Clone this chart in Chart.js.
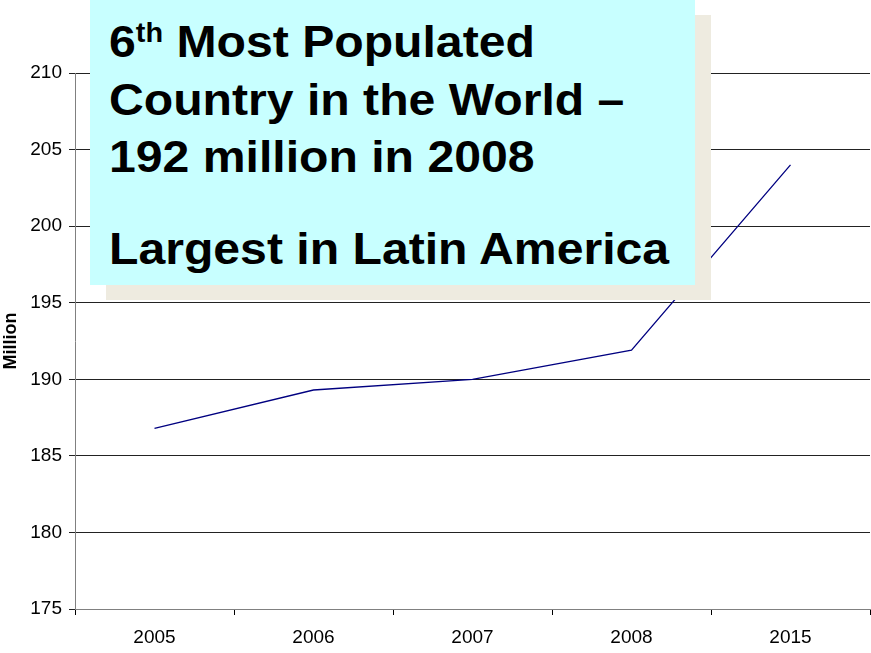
<!DOCTYPE html>
<html>
<head>
<meta charset="utf-8">
<script src="https://cdn.jsdelivr.net/npm/chart.js@4"></script>
<style>
  html, body { margin: 0; padding: 0; background: #fff; }
  #wrap { position: relative; width: 871px; height: 653px; }
  #shadow { position: absolute; left: 106px; top: 15px; width: 605px; height: 285px; background: #EEEBE0; }
  #box { position: absolute; left: 90px; top: 0px; width: 605px; height: 285px; background: #C8FFFF; }
  #box p { margin: 0; position: absolute; left: 19px; font: bold 45px "Liberation Sans", Arial, sans-serif; color: #000; white-space: nowrap; line-height: 57.5px; transform: scaleX(1.07); transform-origin: 0 0; }
  #box sup { font-size: 27px; vertical-align: 15px; line-height: 0; }
</style>
</head>
<body>
<div id="wrap">
  <canvas id="c" width="871" height="653"></canvas>
  <div id="shadow"></div>
  <div id="box">
    <p style="top:13px">6<sup>th</sup> Most Populated<br>Country in the World –<br>192 million in 2008</p>
    <p style="top:220px">Largest in Latin America</p>
  </div>
</div>
<script>
const years = ["2005", "2006", "2007", "2008", "2015"];
const population = [186.8, 189.3, 190.0, 191.9, 204.0];
const yTicks = [175, 180, 185, 190, 195, 200, 205, 210];

const font = { family: "'Liberation Sans', Arial, sans-serif", size: 19 };

new Chart(document.getElementById("c").getContext("2d"), {
  type: "line",
  data: {
    labels: years,
    datasets: [
      {
        label: "Population",
        data: population,
        borderColor: "#000080",
        borderWidth: 1.3,
        pointRadius: 0,
        fill: false,
        tension: 0,
      },
    ],
  },
  options: {
    responsive: false,
    animation: false,
    layout: { padding: { top: 73, right: 1, left: 0, bottom: 0 } },
    plugins: { legend: { display: false }, tooltip: { enabled: false } },
    scales: {
      x: {
        offset: true,
        grid: { offset: true, drawOnChartArea: false, tickLength: 6, color: "#000" },
        border: { color: "#808080", width: 1 },
        ticks: { color: "#000", font: font, padding: 11, maxRotation: 0 },
        afterFit: (s) => { s.height = 44; },
      },
      y: {
        min: 175,
        max: 210,
        afterBuildTicks: (s) => { s.ticks = yTicks.map((v) => ({ value: v })); },
        grid: { color: "#222", tickLength: 6, lineWidth: 1 },
        border: { color: "#808080", width: 1 },
        ticks: { color: "#000", font: font, padding: 7 },
        title: {
          display: true,
          text: "Million",
          color: "#000",
          font: { family: "'Liberation Sans', Arial, sans-serif", size: 18, weight: "bold" },
          padding: { top: 0, bottom: 0 },
        },
        afterFit: (s) => { s.width = 75; },
      },
    },
  },
});
</script>
</body>
</html>
